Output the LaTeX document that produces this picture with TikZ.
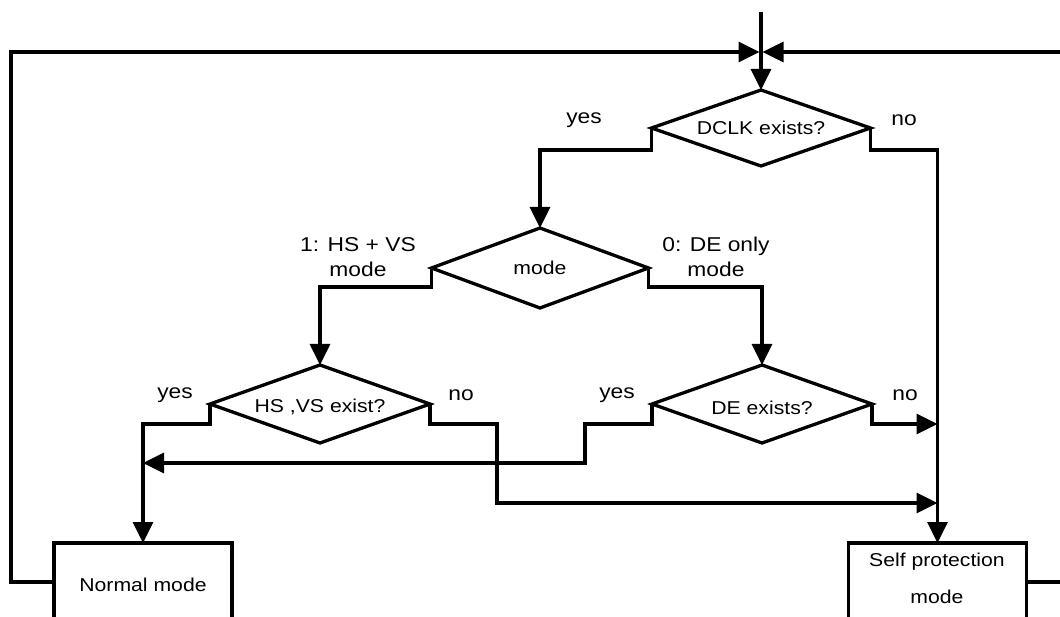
\documentclass[tikz,border=0pt]{standalone}
\usepackage{fontspec}
\setmainfont{Liberation Sans}[FakeStretch=1.14]
\usetikzlibrary{arrows.meta,shapes.geometric}
\begin{document}
\begin{tikzpicture}[x=1pt,y=-1pt,line width=3.3pt,
  font=\fontsize{18.6}{22}\selectfont,
  arr/.style={-{Triangle[length=21pt,width=20pt]}},
  dec/.style={diamond,draw,inner sep=0pt,outer sep=0pt,shape aspect=2.8},
  boxn/.style={rectangle,draw,inner sep=0pt,outer sep=0pt,minimum width=178pt,minimum height=107pt},
  lbl/.style={inner sep=0pt,align=center},
  big/.style={inner sep=0pt,align=center,font=\fontsize{20}{25}\selectfont}]
\useasboundingbox (0,0) rectangle (1060,617);
\fill[white] (0,0) rectangle (1060,617);
\clip (0,0) rectangle (1060,617);

\node[dec,minimum width=219pt,minimum height=76pt] (dclk) at (761,128) {DCLK exists?};
\node[dec,minimum width=217pt,minimum height=80pt] (mode) at (540,268) {mode};
\node[dec,minimum width=220pt,minimum height=78pt] (hs) at (320,404) {};
\node[lbl] (hst) at (320,407) {HS ,VS exist?};
\node[dec,minimum width=220pt,minimum height=78pt] (de) at (762,404) {};
\node[lbl] (det) at (762,408) {DE exists?};

\node[boxn] (normal) at (143,596.5) {};
\node[lbl] (normalt) at (143,585) {Normal mode};
\node[boxn] (self) at (937.5,596.5) {};
\node[lbl] (selft1) at (937,562) {Self protection};
\node[lbl] (selft2) at (937,597) {mode};

\node[big] (y1) at (584,120) {yes};
\node[big] (n1) at (904,120) {no};
\node[big] (m1) at (358,257) {1: HS + VS\\mode};
\node[big] (m0) at (716,257) {0: DE only\\mode};
\node[big] (y2) at (175,395) {yes};
\node[big] (n2) at (461,395) {no};
\node[big] (y3) at (617,395) {yes};
\node[big] (n3) at (905,395) {no};

\coordinate (start) at (761,12);
\coordinate (meetL) at (759.5,52);
\coordinate (meetR) at (762.5,52);

\draw[arr] (start) -- (dclk.north);
\draw[arr] (normal.west |- 0,582) -- (11,582) -- (11,52) -- (meetL);
\draw[arr] (self.east |- 0,582) -- (1075,582) -- (1075,52) -- (meetR);

\draw[arr] (dclk.west) -- (dclk.west |- 0,150) -- (540,150) -- (mode.north);
\draw[arr] (dclk.east) -- (dclk.east |- 0,150) -- (self.north |- 0,150) -- (self.north);

\draw[arr] (mode.west) -- (mode.west |- 0,287) -| (hs.north);
\draw[arr] (mode.east) -- (mode.east |- 0,287) -| (de.north);

\draw[arr] (hs.west) -- (hs.west |- 0,424) -| (normal.north);
\draw[arr] (hs.east) -- (hs.east |- 0,424) -- (497,424) -- (497,503) -- (self.north |- 0,503);
\draw[arr] (de.west) -- (de.west |- 0,424) -- (585,424) -- (585,463) -- (normal.north |- 0,463);
\draw[arr] (de.east) -- (de.east |- 0,424) -- (self.north |- 0,424);
\end{tikzpicture}
\end{document}
